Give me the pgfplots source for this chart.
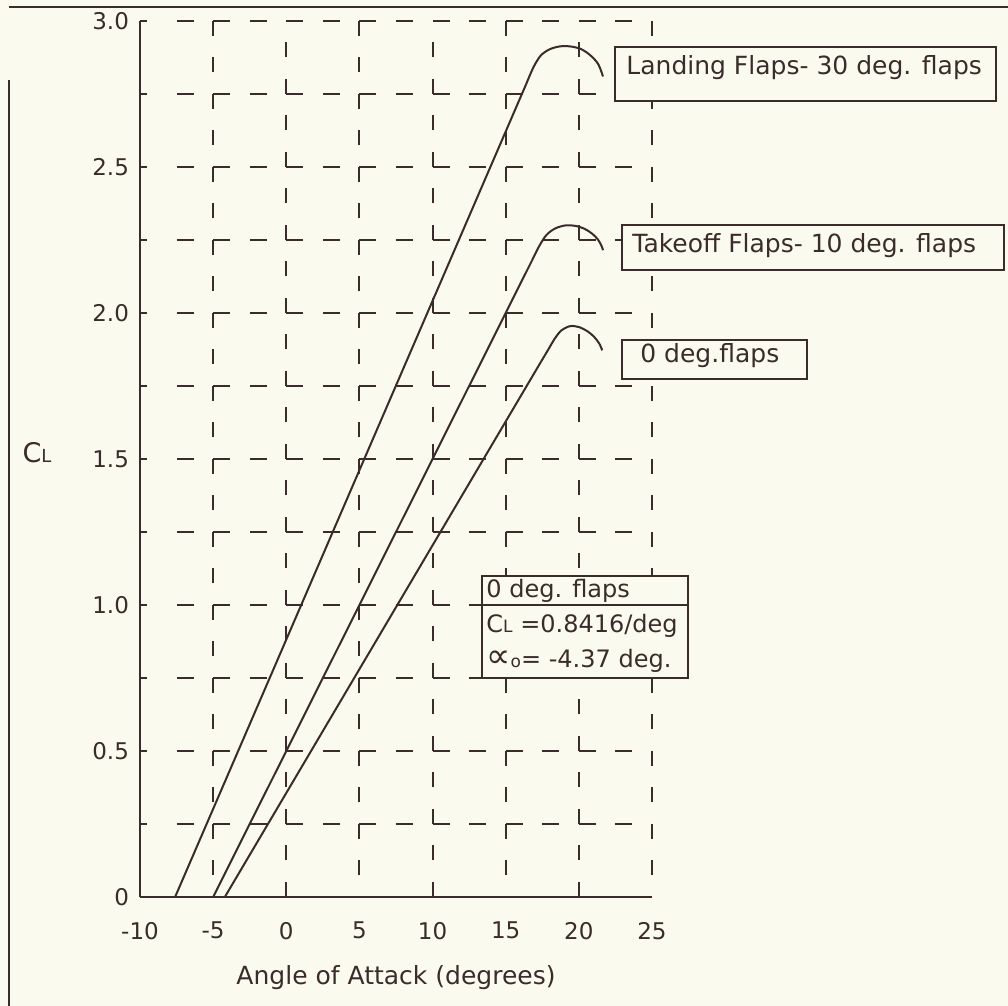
\documentclass[border=0pt]{standalone}
\usepackage{fontspec}
\setmainfont{DejaVu Sans}
\usepackage{pgfplots}
\pgfplotsset{compat=1.18}
\definecolor{ink}{RGB}{58,44,42}
\definecolor{paper}{RGB}{251,250,239}

\begin{document}
\begin{tikzpicture}
% sheet in scan pixels (1 px = 0.5pt); axis corner sits at px (140,897)
\begin{scope}[x=0.5pt,y=-0.5pt,shift={(-140,-897)}]
  \path[use as bounding box, fill=paper] (0,0) rectangle (1008,1006);
  \draw[ink, line width=0.8pt] (9,7) -- (1008,7);
  \draw[ink, line width=0.8pt] (9,80) -- (9,1006);
\end{scope}

\begin{axis}[
  at={(0,0)}, anchor=south west,
  scale only axis, width=256pt, height=438pt,
  xmin=-10, xmax=25, ymin=0, ymax=3,
  clip=false,
  axis x line=bottom, axis y line=left,
  axis line style={-, ink, line width=1.2pt},
  xtick={-10,-5,0,5,10,15,20,25},
  xticklabels={-10,-5,0,5,10,15,20,25},
  ytick={0,0.5,1,1.5,2,2.5,3},
  yticklabels={0,0.5,1.0,1.5,2.0,2.5,3.0},
  major tick length=0pt,
  tick style={draw=none},
  tick label style={font=\fontsize{11.5}{13}\selectfont, text=ink},
  xticklabel style={yshift=-9pt},
  yticklabel style={xshift=-2pt},
  xlabel={Angle of Attack (degrees)},
  every axis x label/.style={at={(axis description cs:0.5,0)}, anchor=center,
    yshift=-40.5pt, font=\fontsize{12.5}{15}\selectfont, text=ink},
  ylabel={C{\fontsize{9}{10}\selectfont L}},
  every axis y label/.style={at={(axis description cs:0,0.5)}, anchor=center,
    xshift=-51.5pt, yshift=3pt, font=\fontsize{13.5}{15}\selectfont, text=ink},
]
% dashed grid
\pgfplotsinvokeforeach{0.25,0.5,0.75,1,1.25,1.5,1.75,2,2.25,2.5,2.75,3}{
  \draw[ink, line width=1pt, dash pattern=on 8.5pt off 9.7857pt]
    (axis cs:-7.5,#1) -- (axis cs:25,#1);
  \draw[ink, line width=1pt] (axis cs:-10,#1) -- ++(3.5pt,0pt);
}
\pgfplotsinvokeforeach{-5,5,15,25}{
  \draw[ink, line width=1pt, dash pattern=on 7.5pt off 10.75pt, dash phase=7.5pt]
    (axis cs:#1,0) -- (axis cs:#1,3);
}
\pgfplotsinvokeforeach{0,10,20}{
  \draw[ink, line width=1pt, dash pattern=on 7.5pt off 10.75pt]
    (axis cs:#1,0) -- (axis cs:#1,3);
}

% landing flaps
\addplot[ink, line width=1pt] coordinates {(-7.6,0) (16.4,2.784)};
\addplot[ink, line width=1pt, smooth] coordinates {
  (16.4,2.784) (16.9,2.842) (17.4,2.882) (18.0,2.903) (18.7,2.913) (19.4,2.913)
  (20.1,2.905) (20.6,2.89) (21.05,2.87) (21.35,2.85) (21.55,2.825) (21.65,2.81)};
% takeoff flaps
\addplot[ink, line width=1pt] coordinates {(-5.0,0) (16.8,2.18)};
\addplot[ink, line width=1pt, smooth] coordinates {
  (16.8,2.18) (17.3,2.23) (17.8,2.268) (18.4,2.29) (19.1,2.30) (19.8,2.298)
  (20.4,2.288) (20.9,2.272) (21.3,2.252) (21.55,2.23) (21.65,2.215)};
% 0 deg flaps
\addplot[ink, line width=1pt] coordinates {(-4.2,0) (17.4,1.832)};
\addplot[ink, line width=1pt, smooth] coordinates {
  (17.4,1.832) (17.9,1.874) (18.35,1.912) (18.8,1.94) (19.4,1.955) (20.0,1.952)
  (20.6,1.937) (21.05,1.918) (21.4,1.895) (21.6,1.872)};
\end{axis}

% annotation boxes
\begin{scope}[x=0.5pt,y=-0.5pt,shift={(-140,-897)},
  every node/.style={anchor=base west, inner sep=0pt, text=ink}]
  \draw[ink, line width=1pt, fill=paper] (615,47) rectangle (996,101);
  \node[font=\fontsize{12.5}{15}\selectfont] at (626,75) {Landing Flaps- 30 deg. flaps};
  \draw[ink, line width=1pt, fill=paper] (622,225) rectangle (1004,270);
  \node[font=\fontsize{12.5}{15}\selectfont] at (632,253) {Takeoff Flaps- 10 deg. flaps};
  \draw[ink, line width=1pt, fill=paper] (622,340) rectangle (807,379);
  \node[font=\fontsize{12.5}{15}\selectfont] at (640,363) {0 deg.flaps};
  \draw[ink, line width=1pt, fill=paper] (482,576) rectangle (688,678);
  \draw[ink, line width=1pt] (482,605) -- (688,605);
  \node[font=\fontsize{12}{14}\selectfont] at (486,598) {0 deg. flaps};
  \node[font=\fontsize{12}{14}\selectfont] at (486,633) {C{\fontsize{8.5}{9}\selectfont L} =0.8416/deg};
  \node[font=\fontsize{12}{14}\selectfont] at (486,668) {{\fontsize{17}{17}\selectfont ∝}{\fontsize{8.5}{9}\selectfont o}= -4.37 deg.};
\end{scope}
\end{tikzpicture}
\end{document}
